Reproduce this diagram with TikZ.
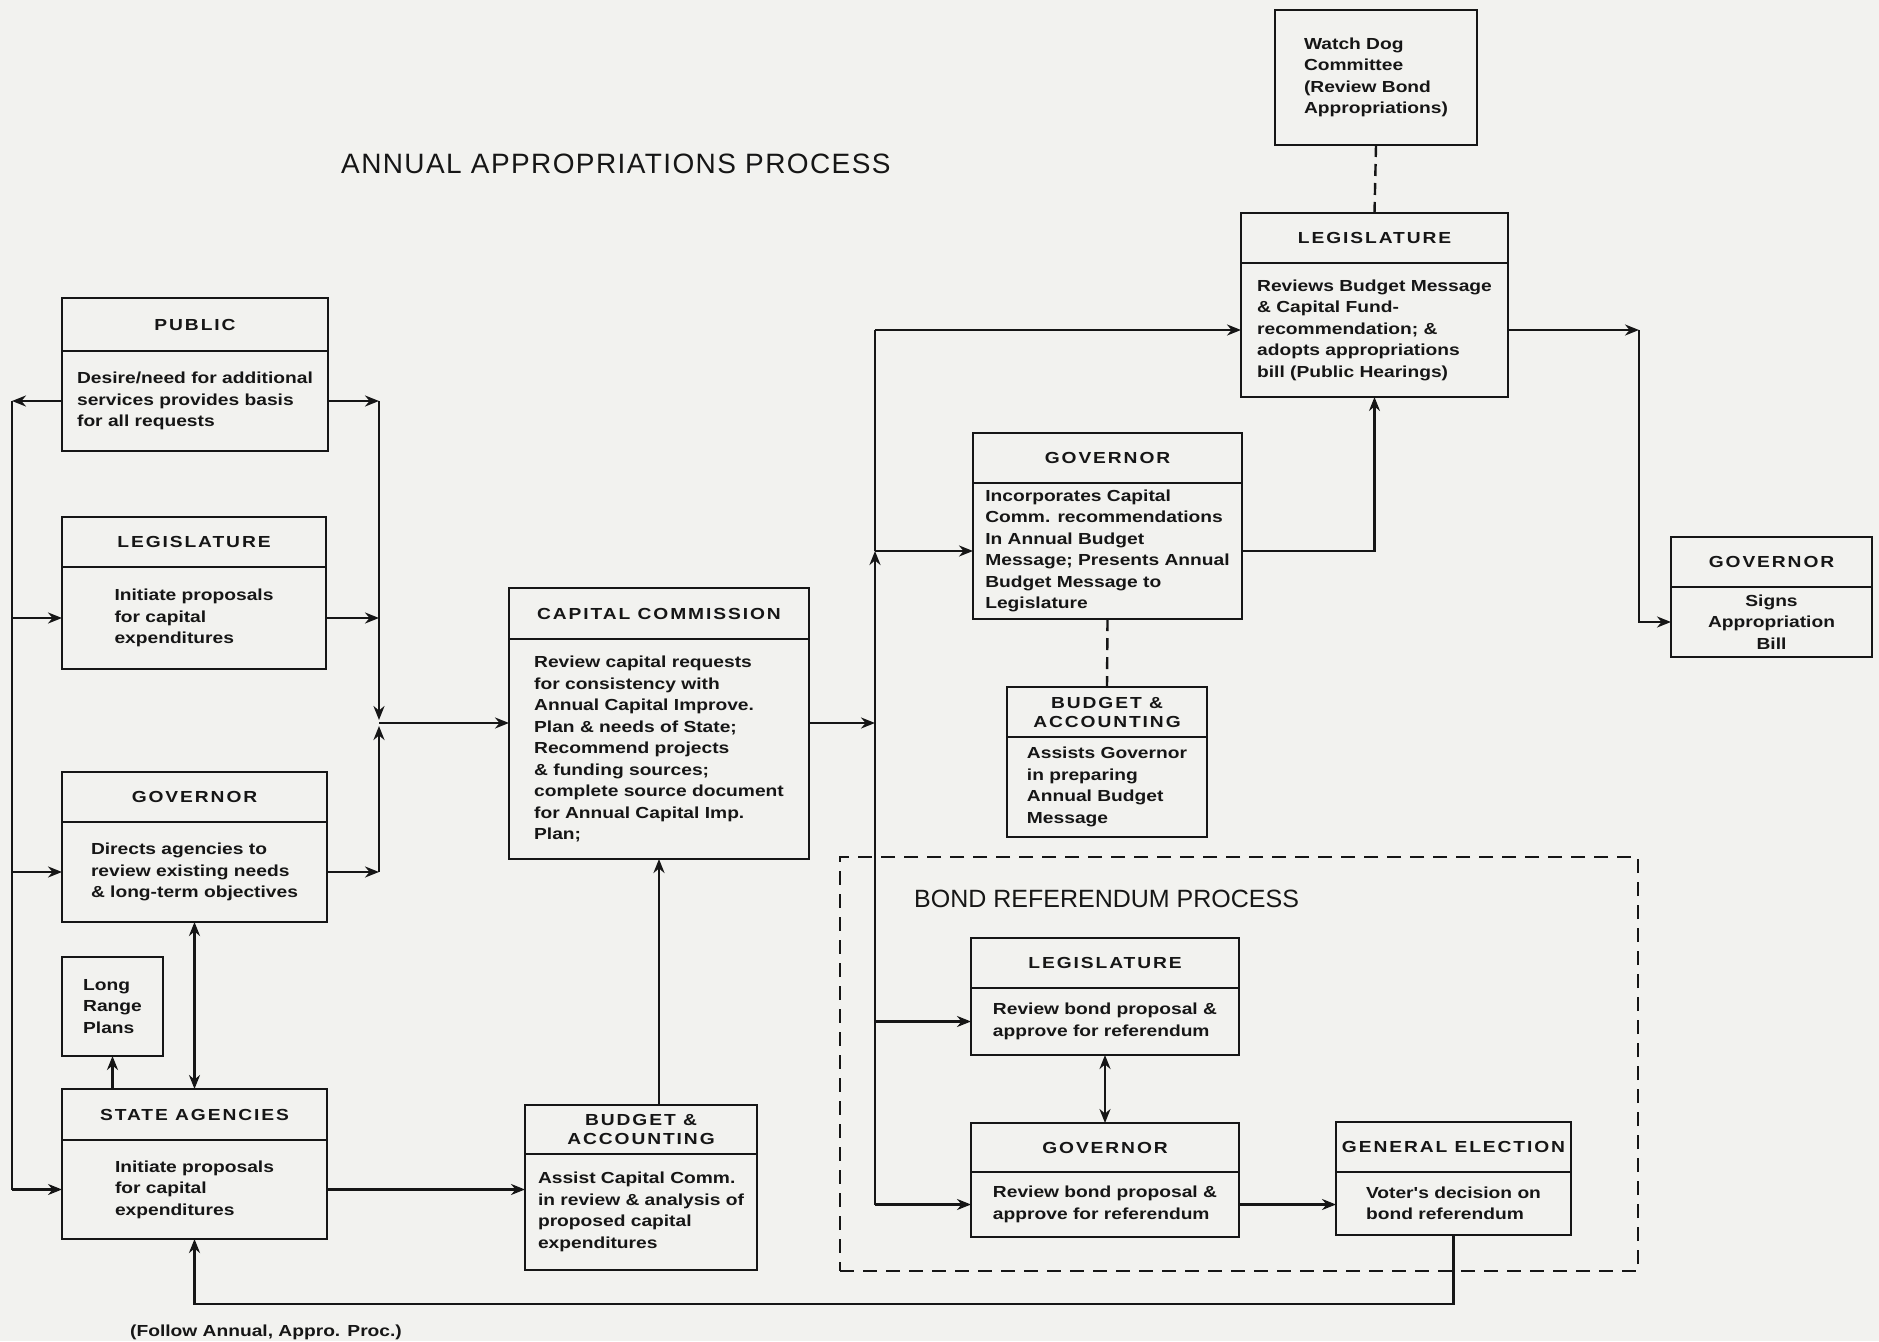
\documentclass[tikz,border=0pt]{standalone}
\usepackage{fontspec}
\setmainfont{Liberation Sans}
\newfontfamily\boxfont{Liberation Sans}[FakeStretch=1.2]
\newfontfamily\headfont{Liberation Sans}[FakeStretch=1.2,LetterSpace=12]
\newfontfamily\titlefont{Liberation Sans}[LetterSpace=5]
\usetikzlibrary{positioning,arrows.meta}
\definecolor{paper}{RGB}{242,242,239}
\definecolor{ink}{RGB}{22,22,22}

\begin{document}
\begin{tikzpicture}[x=1pt,y=-1pt,
  line width=2.4pt, color=ink,
  hd/.style={draw,inner sep=0pt,outer sep=0pt,align=center,
    font=\headfont\bfseries\fontsize{16}{19}\selectfont},
  bd/.style={draw,inner sep=0pt,outer sep=0pt,align=left,
    font=\boxfont\bfseries\fontsize{16}{21.5}\selectfont},
  ttl/.style={inner sep=0pt,font=\titlefont\fontsize{28}{30}\selectfont},
  ttlb/.style={inner sep=0pt,font=\fontsize{25}{27}\selectfont},
  note/.style={inner sep=0pt,font=\boxfont\bfseries\fontsize{16}{19}\selectfont},
  ar/.style={-{Stealth[length=14pt,width=11pt]}},
  arb/.style={{Stealth[length=14pt,width=11pt]}-{Stealth[length=14pt,width=11pt]}},
  dsh/.style={dash pattern=on 12pt off 7pt},
  frm/.style={draw,dash pattern=on 14pt off 9pt,line width=2.2pt,inner sep=0pt}]
\fill[paper] (0,0) rectangle (1879,1341);
\useasboundingbox (0,0) rectangle (1879,1341);

% annual appropriations, left column
\node[ttl,anchor=west] (ttl) at (340,164) {ANNUAL APPROPRIATIONS PROCESS};

\node[hd,minimum width=266pt,minimum height=53pt,anchor=north west] (pubh) at (62,298) {PUBLIC};
\node[bd,minimum width=266pt,minimum height=100pt,below=0pt of pubh] (pub)
  {Desire/need for additional\\services provides basis\\for all requests};

\node[hd,minimum width=264pt,minimum height=50pt,anchor=north west] (leglh) at (62,517) {LEGISLATURE};
\node[bd,minimum width=264pt,minimum height=102pt,below=0pt of leglh] (legl)
  {Initiate proposals\\for capital\\expenditures};

\node[hd,minimum width=265pt,minimum height=50pt,anchor=north west] (govlh) at (62,772) {GOVERNOR};
\node[bd,minimum width=265pt,minimum height=100pt,below=0pt of govlh] (govl)
  {Directs agencies to\\review existing needs\\\& long-term objectives};

\node[bd,minimum width=101pt,minimum height=99pt,anchor=north west] (lrp) at (62,957)
  {Long\\Range\\Plans};

\node[hd,minimum width=265pt,minimum height=51pt,anchor=north west] (sah) at (62,1089) {STATE AGENCIES};
\node[bd,minimum width=265pt,minimum height=99pt,below=0pt of sah] (sa)
  {Initiate proposals\\for capital\\expenditures};

% capital commission and budget office
\node[hd,minimum width=300pt,minimum height=51pt,anchor=north west] (cch) at (509,588) {CAPITAL COMMISSION};
\node[bd,minimum width=300pt,minimum height=220pt,below=0pt of cch] (cc)
  {Review capital requests\\for consistency with\\Annual Capital Improve.\\Plan \& needs of State;\\Recommend projects\\\& funding sources;\\complete source document\\for Annual Capital Imp.\\Plan;};

\node[hd,minimum width=232pt,minimum height=49pt,anchor=north west] (babh) at (525,1105) {BUDGET \&\\ACCOUNTING};
\node[bd,minimum width=232pt,minimum height=116pt,below=0pt of babh] (bab)
  {Assist Capital Comm.\\in review \& analysis of\\proposed capital\\expenditures};

% budget message and appropriations bill
\node[hd,minimum width=269pt,minimum height=50pt,anchor=north west] (govmh) at (973,433) {GOVERNOR};
\node[bd,minimum width=269pt,minimum height=136pt,below=0pt of govmh] (govm)
  {Incorporates Capital\\Comm. recommendations\\In Annual Budget\\Message; Presents Annual\\Budget Message to\\Legislature};

\node[hd,minimum width=200pt,minimum height=50pt,anchor=north west] (bamh) at (1007,687) {BUDGET \&\\ACCOUNTING};
\node[bd,minimum width=200pt,minimum height=100pt,below=0pt of bamh] (bam)
  {Assists Governor\\in preparing\\Annual Budget\\Message};

\node[bd,minimum width=202pt,minimum height=135pt,anchor=north west] (wd) at (1275,10)
  {Watch Dog\\Committee\\(Review Bond\\Appropriations)};

\node[hd,minimum width=267pt,minimum height=50pt,anchor=north west] (legrh) at (1241,213) {LEGISLATURE};
\node[bd,minimum width=267pt,minimum height=134pt,below=0pt of legrh] (legr)
  {Reviews Budget Message\\\& Capital Fund-\\recommendation; \&\\adopts appropriations\\bill (Public Hearings)};

\node[hd,minimum width=201pt,minimum height=50pt,anchor=north west] (govrh) at (1671,537) {GOVERNOR};
\node[bd,align=center,minimum width=201pt,minimum height=70pt,below=0pt of govrh] (govr)
  {Signs\\Appropriation\\Bill};

% bond referendum
\node[frm,minimum width=798pt,minimum height=414pt,anchor=north west] (bfrm) at (839,856) {};
\node[ttlb,anchor=west] (bttl) at (913,899) {BOND REFERENDUM PROCESS};

\node[hd,minimum width=268pt,minimum height=50pt,anchor=north west] (legbh) at (971,938) {LEGISLATURE};
\node[bd,minimum width=268pt,minimum height=67pt,below=0pt of legbh] (legb)
  {Review bond proposal \&\\approve for referendum};

\node[hd,minimum width=268pt,minimum height=49pt,anchor=north west] (govbh) at (971,1123) {GOVERNOR};
\node[bd,minimum width=268pt,minimum height=65pt,below=0pt of govbh] (govb)
  {Review bond proposal \&\\approve for referendum};

\node[hd,minimum width=235pt,minimum height=50pt,anchor=north west] (geh) at (1336,1122) {GENERAL ELECTION};
\node[bd,minimum width=235pt,minimum height=63pt,below=0pt of geh] (ge)
  {Voter's decision on\\bond referendum};

\node[note,anchor=base west] (fol) at (129,1336) {(Follow Annual, Appro. Proc.)};

% connectors
\coordinate (lbus) at (12,0);
\coordinate (jl) at (379,723);
\coordinate (jr) at (875,723);
\coordinate (rbus) at (1639,0);
\coordinate (fbus) at (0,1304);

\draw[ar] (pub.west) -- (pub.west -| lbus);
\draw (pub.west -| lbus) -- (sa.west -| lbus);
\draw[ar] (legl.west -| lbus) -- (legl.west);
\draw[ar] (govl.west -| lbus) -- (govl.west);
\draw[ar] (sa.west -| lbus) -- (sa.west);

\draw[ar] (pub.east) -- (pub.east -| jl);
\draw[ar] (legl.east) -- (legl.east -| jl);
\draw[ar] (govl.east) -- (govl.east -| jl);
\draw[ar,shorten >=3pt] (pub.east -| jl) -- (jl);
\draw[ar,shorten >=3pt] (govl.east -| jl) -- (jl);
\draw[ar] (jl) -- (jl -| cch.west);

\draw[arb] (govl.south) -- (govl.south |- sah.north);
\draw[ar] (lrp.south |- sah.north) -- (lrp.south);
\draw[ar] (sa.east) -- (sa.east -| bab.west);
\draw[ar] (cc.south |- babh.north) -- (cc.south);

\draw[ar] (jr -| cch.east) -- (jr);
\draw[ar] (jr) -- (jr |- govm.west);
\draw (jr |- govm.west) -- (jr |- legr.west);
\draw[ar] (jr |- legr.west) -- (legr.west);
\draw[ar] (jr |- govm.west) -- (govm.west);
\draw (jr) -- (jr |- govb.west);
\draw[ar] (jr |- legb.west) -- (legb.west);
\draw[ar] (jr |- govb.west) -- (govb.west);

\draw[dsh] (wd.south) -- (legrh.north);
\draw[dsh] (govm.south) -- (bamh.north);
\draw[ar] (govm.east) -| (legr.south);
\draw[ar] (legr.east) -- (legr.east -| rbus);
\draw[ar] (legr.east -| rbus) |- (govr.west);

\draw[arb] (legb.south) -- (govbh.north);
\draw[ar] (govb.east) -- (govb.east -| ge.west);
\draw[ar] (ge.south) |- (fbus -| sa.south) -- (sa.south);
\end{tikzpicture}
\end{document}
